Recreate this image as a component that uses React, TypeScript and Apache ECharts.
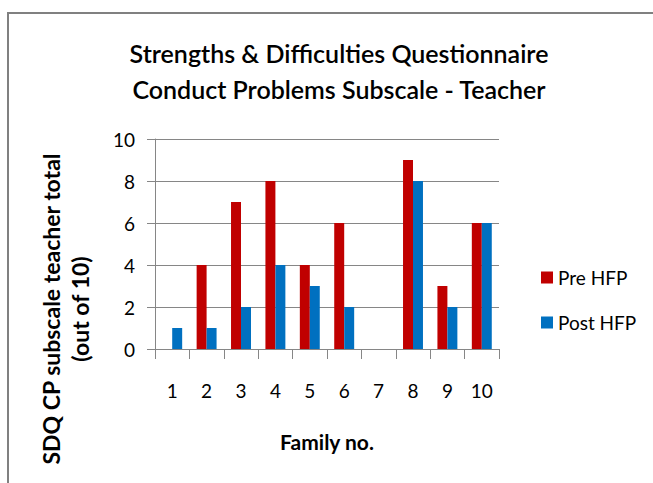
import React, { useEffect, useRef } from "react";
import * as echarts from "echarts";

const categories = ["1", "2", "3", "4", "5", "6", "7", "8", "9", "10"];
const preHFP = [0, 4, 7, 8, 4, 6, 0, 9, 3, 6];
const postHFP = [1, 1, 2, 4, 3, 2, 0, 8, 2, 6];
const titleLines = ["Strengths & Difficulties Questionnaire", "Conduct Problems Subscale - Teacher"];
const yTitle = "SDQ CP subscale teacher total\n(out of 10)";
const xTitle = "Family no.";

const FONT = "Lato, 'Open Sans', sans-serif";

export default function App() {
  const ref = useRef<HTMLDivElement>(null);
  useEffect(() => {
    if (!ref.current) return;
    const chart = echarts.init(ref.current, null, { renderer: "svg" });
    chart.setOption({
      animation: false,
      backgroundColor: "#ffffff",
      title: {
        text: titleLines.join("\n"),
        left: 334,
        top: 30,
        textAlign: "center",
        textStyle: { fontFamily: FONT, fontSize: 25, fontWeight: 600, color: "#000", lineHeight: 36 },
      },
      graphic: [
        {
          type: "polyline",
          shape: { points: [[8, 490], [8, 13], [660, 13]] },
          style: { stroke: "#808080", lineWidth: 2, fill: "none" },
          silent: true,
        },
      ],
      legend: {
        orient: "vertical",
        left: 536,
        top: 263,
        itemWidth: 12,
        itemHeight: 12,
        itemGap: 26,
        icon: "rect",
        textStyle: { fontFamily: FONT, fontSize: 19, color: "#000" },
        data: ["Pre HFP", "Post HFP"],
      },
      grid: { left: 155, top: 139, width: 344, height: 210, containLabel: false },
      xAxis: {
        type: "category",
        data: categories,
        name: xTitle,
        nameLocation: "middle",
        nameGap: 82,
        nameTextStyle: { fontFamily: FONT, fontSize: 21, fontWeight: "bold", color: "#000" },
        axisLine: { lineStyle: { color: "#868686", width: 1 } },
        axisTick: { show: true, alignWithLabel: false, length: 10, lineStyle: { color: "#868686" } },
        axisLabel: { fontFamily: FONT, fontSize: 19, color: "#000", margin: 32 },
      },
      yAxis: {
        type: "value",
        min: 0,
        max: 10,
        interval: 2,
        name: yTitle,
        nameLocation: "middle",
        nameGap: 61,
        nameRotate: 90,
        nameTextStyle: {
          fontFamily: FONT,
          fontSize: 23,
          fontWeight: "bold",
          color: "#000",
          lineHeight: 29,
          padding: [0, 130, 0, 0],
        },
        axisLine: { show: true, lineStyle: { color: "#868686" } },
        axisTick: { show: true, length: 8, lineStyle: { color: "#868686" } },
        splitLine: { show: true, lineStyle: { color: "#868686", width: 1 } },
        axisLabel: { fontFamily: FONT, fontSize: 19, color: "#000", margin: 20 },
      },
      series: [
        {
          name: "Pre HFP",
          type: "bar",
          data: preHFP,
          itemStyle: { color: "#C00000" },
          barGap: "0%",
          barCategoryGap: "42%",
        },
        {
          name: "Post HFP",
          type: "bar",
          data: postHFP,
          itemStyle: { color: "#0070C0" },
          barGap: "0%",
          barCategoryGap: "42%",
        },
      ],
    });
    return () => chart.dispose();
  }, []);
  return <div ref={ref} style={{ position: "fixed", left: 0, top: 0, width: 653, height: 483 }} />;
}
